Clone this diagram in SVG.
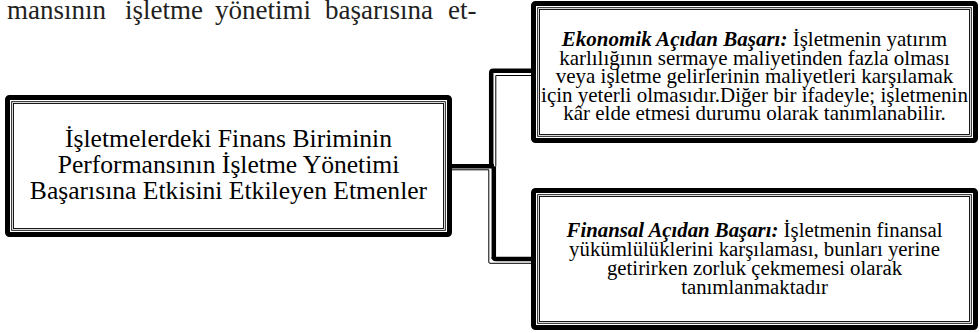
<svg xmlns="http://www.w3.org/2000/svg" width="980" height="333" viewBox="0 0 980 333">
<style>
.thick{fill:none;stroke:#000;stroke-width:5}
.thin{fill:none;stroke:#000;stroke-width:0.9}
.cthick{fill:none;stroke:#000;stroke-width:4.5;stroke-linejoin:round}
.cthin{fill:none;stroke:#000;stroke-width:1}
.bt{font-family:"Liberation Serif","Times New Roman",serif;fill:#000;text-anchor:middle}
.body{font-family:"Liberation Serif","Times New Roman",serif;fill:#231f20;font-size:27px}
.bi{font-weight:bold;font-style:italic}
</style>
<rect width="980" height="333" fill="#fff"/>
<text class="body" y="18.5"><tspan x="7">mansının</tspan><tspan x="125">işletme</tspan><tspan x="215">yönetimi</tspan><tspan x="325">başarısına</tspan><tspan x="448">et-</tspan></text>
<g id="connectors">
<path class="cthick" d="M452,166.3 H494"/>
<path class="cthin" d="M452,169.8 H489"/>
<path class="cthick" d="M491.2,166.3 V73 Q491.2,70.8 493.4,70.8 H532"/>
<path class="cthin" d="M495.8,166.3 V75.5 H532"/>
<path class="cthick" d="M493.8,166.3 V259"/>
<path class="cthick" d="M493.8,257 Q493.8,259 496,259 H532"/>
<path class="cthin" d="M488.8,170 V262 Q488.8,263.3 490,263.3 H532"/>
</g>
<g id="main">
<rect class="thick" x="7.5" y="97.5" width="442" height="137" rx="2"/>
<rect class="thin" x="11.7" y="101.7" width="433.6" height="128.6"/>
<rect class="thin" x="13.5" y="103.5" width="430" height="125"/>
<text class="bt" font-size="25.6"><tspan x="228.5" y="147">İşletmelerdeki Finans Biriminin</tspan><tspan x="228.5" y="173">Performansının İşletme Yönetimi</tspan><tspan x="228.5" y="199">Başarısına Etkisini Etkileyen Etmenler</tspan></text>
</g>
<g id="ekonomik">
<rect class="thick" x="533.5" y="3.5" width="442" height="137" rx="2"/>
<rect class="thin" x="537.7" y="7.7" width="433.6" height="128.6"/>
<rect class="thin" x="539.5" y="9.5" width="430" height="125"/>
<text class="bt" font-size="21"><tspan x="754.5" y="46"><tspan class="bi">Ekonomik Açıdan Başarı:</tspan> İşletmenin yatırım</tspan><tspan x="754.5" y="64.5">karlılığının sermaye maliyetinden fazla olması</tspan><tspan x="754.5" y="83">veya işletme gelirlerinin maliyetleri karşılamak</tspan><tspan x="754.5" y="101.5">için yeterli olmasıdır.Diğer bir ifadeyle; işletmenin</tspan><tspan x="754.5" y="120">kâr elde etmesi durumu olarak tanımlanabilir.</tspan></text>
</g>
<g id="finansal">
<rect class="thick" x="533.5" y="190.5" width="442" height="137" rx="2"/>
<rect class="thin" x="537.7" y="194.7" width="433.6" height="128.6"/>
<rect class="thin" x="539.5" y="196.5" width="430" height="125"/>
<text class="bt" font-size="20.8"><tspan x="754.5" y="237"><tspan class="bi">Finansal Açıdan Başarı:</tspan> İşletmenin finansal</tspan><tspan x="754.5" y="256">yükümlülüklerini karşılaması, bunları yerine</tspan><tspan x="754.5" y="275">getirirken zorluk çekmemesi olarak</tspan><tspan x="754.5" y="294">tanımlanmaktadır</tspan></text>
</g>
</svg>
